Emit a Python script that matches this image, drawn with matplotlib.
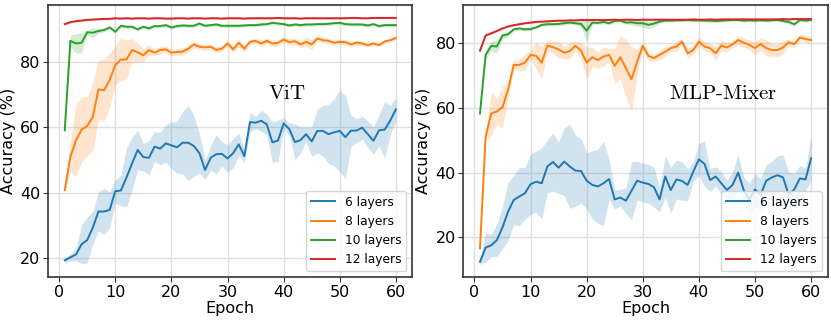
'''
Accuracy vs. epoch for ViT and MLP-Mixer at different depths,
mean curve with a +/- std band for every depth.
'''

import numpy as np
from matplotlib import pyplot as plt

plt.rcParams['mathtext.fontset'] = 'cm'

epochs = np.arange(1, 61)
labels = ['6 layers', '8 layers', '10 layers', '12 layers']
colors = ['tab:blue', 'tab:orange', 'tab:green', 'tab:red']

# ViT
vit_6 = [19.4, 20.3, 21.2, 24.3, 25.6, 29.4, 34.3, 34.3, 34.8, 40.5,
         40.7, 44.7, 49.0, 53.1, 50.9, 50.7, 54.1, 53.5, 55.1, 54.5,
         53.9, 55.3, 55.3, 54.3, 52.1, 47.0, 50.7, 51.8, 51.9, 50.5,
         52.1, 54.8, 51.2, 61.6, 61.4, 62.0, 60.9, 55.4, 56.0, 61.2,
         59.5, 55.5, 56.1, 57.9, 55.7, 58.9, 58.9, 57.9, 58.5, 58.9,
         57.0, 59.0, 59.0, 59.9, 57.9, 55.9, 59.1, 59.3, 62.1, 65.5]
vit_6_std = [0.8, 1.0, 2.0, 6.0, 7.0, 5.0, 6.0, 7.0, 5.5, 3.5,
             4.7, 9.0, 8.0, 6.0, 4.2, 5.2, 4.5, 5.0, 5.7, 7.0,
             8.0, 9.5, 11.5, 9.2, 6.0, 3.0, 3.7, 6.0, 3.7, 4.2,
             4.5, 3.5, 2.0, 3.0, 1.8, 3.2, 3.2, 6.2, 6.2, 1.8,
             1.8, 5.5, 4.0, 2.2, 4.5, 6.7, 7.7, 9.0, 10.2, 12.5,
             12.7, 4.7, 3.7, 3.5, 4.0, 4.2, 4.7, 8.7, 4.5, 3.5]
vit_8 = [40.8, 51.0, 56.0, 59.3, 60.4, 63.2, 71.6, 71.3, 74.4, 79.0,
         80.7, 80.7, 83.6, 82.9, 82.0, 83.6, 82.8, 83.6, 83.8, 82.8,
         83.0, 83.1, 84.0, 85.3, 84.6, 84.4, 84.6, 83.6, 84.0, 85.6,
         83.8, 85.8, 84.0, 86.1, 86.4, 85.6, 86.4, 85.6, 85.8, 86.8,
         86.0, 86.3, 85.3, 86.1, 85.3, 87.1, 86.6, 86.4, 85.8, 86.1,
         86.0, 85.3, 85.9, 85.6, 85.1, 85.6, 85.1, 86.2, 86.6, 87.3]
vit_8_std = [0.5, 4.5, 11.0, 10.0, 9.0, 10.5, 9.0, 9.5, 8.3, 6.0,
             6.5, 6.0, 3.5, 3.0, 2.0, 1.5, 1.0, 1.2, 1.0, 1.0,
             1.0, 1.0, 1.0, 1.0, 0.8, 0.8, 0.8, 1.0, 0.8, 1.0,
             1.0, 1.2, 1.0, 0.8, 0.8, 1.0, 0.8, 1.0, 1.0, 0.8,
             1.0, 1.0, 1.0, 1.5, 1.5, 0.8, 0.8, 0.8, 0.8, 0.8,
             0.8, 0.8, 0.6, 0.6, 0.6, 0.6, 0.6, 0.6, 0.6, 0.6]
vit_10 = [59.1, 86.4, 85.6, 85.8, 89.0, 88.9, 89.4, 89.7, 90.5, 89.2,
          91.0, 90.7, 90.7, 89.9, 90.7, 90.2, 90.9, 90.9, 91.2, 90.5,
          90.9, 91.1, 91.0, 91.0, 91.7, 91.0, 91.2, 91.4, 91.0, 91.0,
          91.0, 91.0, 91.1, 91.2, 91.2, 91.4, 91.5, 91.9, 91.7, 91.5,
          91.1, 91.4, 91.2, 91.4, 91.4, 91.5, 91.5, 91.6, 91.8, 91.9,
          91.5, 91.4, 91.4, 91.4, 91.1, 91.5, 90.9, 91.2, 91.2, 91.2]
vit_10_std = [0.3, 1.8, 3.0, 3.0, 0.7, 1.5, 0.8, 0.6, 0.5, 0.5,
              0.5, 0.5, 0.5, 0.5, 0.5, 0.5, 0.5, 0.5, 0.5, 0.5,
              0.5, 0.5, 0.5, 0.5, 0.5, 0.5, 0.5, 0.5, 0.5, 0.5,
              0.5, 0.5, 0.5, 0.5, 0.5, 0.5, 0.5, 0.5, 0.5, 0.5,
              0.5, 0.5, 0.5, 0.5, 0.5, 0.5, 0.5, 0.5, 0.5, 0.5,
              0.5, 0.5, 0.5, 0.5, 0.5, 0.5, 0.5, 0.5, 0.5, 0.5]
vit_12 = [91.5, 92.1, 92.4, 92.6, 92.8, 92.9, 93.0, 93.1, 93.1, 93.3,
          93.2, 93.3, 93.2, 93.3, 93.3, 93.2, 93.3, 93.3, 93.2, 93.2,
          93.3, 93.3, 93.2, 93.3, 93.3, 93.2, 93.3, 93.3, 93.2, 93.3,
          93.3, 93.3, 93.2, 93.3, 93.3, 93.3, 93.3, 93.3, 93.4, 93.3,
          93.3, 93.3, 93.2, 93.3, 93.3, 93.3, 93.3, 93.3, 93.3, 93.3,
          93.3, 93.4, 93.4, 93.3, 93.3, 93.4, 93.4, 93.4, 93.4, 93.4]
vit_12_std = [0.3] * 60

# MLP-Mixer
mlp_6 = [12.4, 16.8, 17.5, 19.1, 23.0, 27.9, 31.5, 32.6, 33.6, 36.4,
         37.2, 36.7, 41.9, 43.3, 41.5, 43.4, 41.9, 40.6, 40.5, 37.5,
         36.2, 35.7, 36.7, 38.0, 31.7, 32.3, 31.3, 34.4, 37.5, 36.9,
         36.5, 35.5, 31.7, 38.8, 34.6, 37.9, 37.4, 36.2, 40.3, 44.1,
         42.7, 37.7, 38.8, 36.7, 34.6, 36.2, 40.0, 34.6, 31.6, 34.8,
         33.1, 37.5, 38.5, 39.2, 38.5, 33.1, 34.8, 38.2, 37.9, 44.4]
mlp_6_std = [0.8, 4.5, 3.5, 5.0, 6.5, 9.0, 7.7, 9.0, 8.0, 9.3,
             9.5, 11.0, 8.2, 9.0, 8.0, 10.5, 13.0, 11.0, 10.0, 8.7,
             10.5, 11.5, 13.0, 6.2, 3.0, 2.5, 4.0, 9.0, 6.0, 6.0,
             6.0, 6.2, 3.7, 6.5, 7.0, 6.0, 6.0, 5.0, 3.0, 5.0,
             7.0, 3.5, 3.0, 3.5, 3.0, 4.0, 5.5, 4.0, 5.0, 5.0,
             5.0, 5.0, 5.0, 6.0, 7.0, 7.0, 5.0, 4.0, 3.5, 7.0]
mlp_8 = [16.6, 51.1, 58.3, 58.9, 60.2, 65.6, 73.3, 73.3, 74.0, 76.4,
         76.1, 74.0, 79.3, 78.8, 78.1, 77.1, 77.6, 79.2, 77.7, 74.0,
         75.7, 74.8, 75.9, 76.4, 73.0, 75.7, 72.3, 68.9, 74.3, 79.2,
         76.1, 75.4, 76.4, 77.4, 78.5, 79.0, 80.5, 76.9, 77.9, 80.5,
         79.0, 78.5, 76.9, 79.3, 78.7, 79.7, 81.0, 80.2, 79.5, 78.5,
         79.8, 78.5, 77.9, 77.9, 78.7, 80.3, 79.7, 81.8, 81.3, 81.0]
mlp_8_std = [0.5, 1.5, 6.7, 4.0, 6.5, 2.3, 1.5, 1.7, 2.5, 1.5,
             4.0, 5.0, 1.5, 2.0, 2.5, 2.0, 2.5, 1.5, 2.5, 5.0,
             3.0, 2.5, 3.0, 2.0, 5.5, 6.5, 9.0, 10.0, 4.0, 1.0,
             1.5, 1.0, 1.5, 1.5, 1.0, 1.5, 1.0, 1.5, 1.5, 1.5,
             1.5, 1.5, 2.0, 1.5, 1.5, 1.0, 1.5, 1.5, 1.5, 2.0,
             2.0, 2.5, 2.0, 2.0, 2.0, 1.0, 1.0, 1.0, 1.0, 1.0]
mlp_10 = [58.3, 76.4, 79.2, 79.0, 82.4, 82.8, 84.3, 84.6, 84.3, 84.4,
          84.9, 85.7, 85.9, 85.9, 86.0, 86.2, 86.4, 86.2, 86.0, 83.9,
          86.4, 86.3, 86.6, 86.2, 86.9, 87.0, 86.4, 86.5, 86.2, 86.2,
          85.7, 86.1, 86.7, 87.0, 87.0, 87.1, 87.1, 87.2, 87.1, 87.1,
          87.0, 87.0, 86.9, 87.0, 87.1, 87.2, 87.2, 87.0, 87.1, 87.0,
          87.1, 87.0, 87.1, 87.2, 86.9, 86.6, 85.9, 87.2, 87.0, 87.2]
mlp_10_std = [0.3, 1.5, 1.5, 2.0, 1.0, 0.8, 0.5, 0.5, 0.5, 0.5,
              0.5, 0.5, 0.5, 0.5, 0.5, 0.5, 0.5, 0.5, 0.8, 3.5,
              0.5, 0.5, 0.5, 0.5, 0.5, 0.5, 0.5, 0.8, 1.0, 1.2,
              1.2, 1.0, 0.5, 0.4, 0.4, 0.4, 0.4, 0.4, 0.4, 0.4,
              0.4, 0.6, 0.6, 0.4, 0.4, 0.4, 0.4, 0.4, 0.4, 0.4,
              0.4, 0.4, 0.4, 0.4, 0.5, 0.6, 0.6, 0.4, 0.4, 0.4]
mlp_12 = [77.7, 82.4, 83.1, 83.8, 84.6, 85.2, 85.6, 85.9, 86.2, 86.4,
          86.6, 86.7, 86.8, 86.9, 87.0, 87.0, 87.1, 87.1, 87.2, 87.2,
          87.2, 87.2, 87.2, 87.2, 87.3, 87.2, 87.3, 87.3, 87.2, 87.3,
          87.3, 87.3, 87.3, 87.3, 87.3, 87.3, 87.3, 87.3, 87.4, 87.3,
          87.3, 87.4, 87.3, 87.4, 87.4, 87.4, 87.4, 87.4, 87.4, 87.4,
          87.4, 87.4, 87.4, 87.4, 87.5, 87.4, 87.5, 87.5, 87.5, 87.5]
mlp_12_std = [0.3] * 60


def _panel(ax, means, stds, name, name_xy, ylim):
    for m, s, lab, clr in zip(means, stds, labels, colors):
        m = np.array(m)
        s = np.array(s)
        ax.fill_between(epochs, m - s, m + s, color=clr, alpha=0.2, lw=0)
        ax.plot(epochs, m, color=clr, lw=1.4, label=lab)
    ax.set_ylim(ylim)
    ax.set_xticks([0, 10, 20, 30, 40, 50, 60])
    ax.grid(True, color='#e0e0e0', lw=1.0)
    ax.set_axisbelow(True)
    for sp in ax.spines.values():
        sp.set_color('#333333')
        sp.set_linewidth(1.2)
    ax.tick_params(labelsize=11.5, color='#333333', pad=2)
    ax.set_xlabel('Epoch', fontsize=11.5, labelpad=1)
    ax.set_ylabel('Accuracy (%)', fontsize=11.5, labelpad=3)
    ax.text(name_xy[0], name_xy[1], name, fontsize=15,
            ha='center', va='center')
    ax.legend(loc='lower right', fontsize=8.8)


fig, (ax1, ax2) = plt.subplots(1, 2, figsize=(8.31, 3.21), dpi=100)
plt.subplots_adjust(left=0.058, right=0.996, bottom=0.137, top=0.984, wspace=0.14)

_panel(ax1, [vit_6, vit_8, vit_10, vit_12],
       [vit_6_std, vit_8_std, vit_10_std, vit_12_std],
       r'$\mathrm{ViT}$', (40.5, 70.5), (14.3, 97.3))
_panel(ax2, [mlp_6, mlp_8, mlp_10, mlp_12],
       [mlp_6_std, mlp_8_std, mlp_10_std, mlp_12_std],
       r'$\mathrm{MLP\text{-}Mixer}$', (44.2, 64.5), (7.7, 91.8))

plt.savefig('out.png', dpi=100)
